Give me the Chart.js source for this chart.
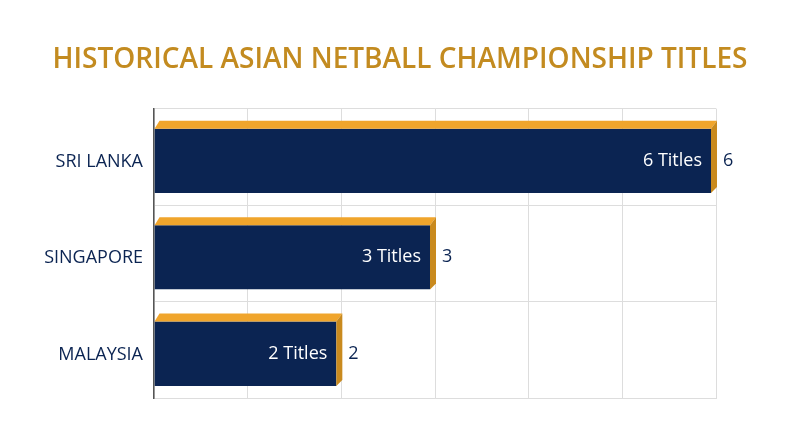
<!DOCTYPE html>
<html>
<head>
<meta charset="utf-8">
<script src="https://cdn.jsdelivr.net/npm/chart.js@4/dist/chart.umd.min.js"></script>
<style>
  body { margin: 0; background: #fff; }
  #wrap { width: 800px; height: 447px; }
</style>
</head>
<body>
<div id="wrap"><canvas id="titlesChart" width="800" height="447"></canvas></div>
<script>
// chart values
var countries = ['SRI LANKA', 'SINGAPORE', 'MALAYSIA'];
var titles = [6, 3, 2];
var barLabels = ['6 Titles', '3 Titles', '2 Titles'];

var navy = '#0B2452';
var goldTop = '#F0A52C';
var goldSide = '#C98A1E';

// the bar keeps a transparent top and right border; the 3d faces go in there
var depthTop = 8;
var depthSide = 5;

var boxes3d = {
    id: 'boxes3d',
    afterDatasetsDraw: function (chart) {
        var ctx = chart.ctx;
        var meta = chart.getDatasetMeta(0);
        meta.data.forEach(function (bar, i) {
            var top = bar.y - bar.height / 2;
            var bottom = bar.y + bar.height / 2;
            var faceTop = top + depthTop;
            var left = bar.base;
            var faceRight = bar.x - depthSide;
            var outerRight = bar.x + 1;

            ctx.save();
            ctx.fillStyle = goldTop;
            ctx.beginPath();
            ctx.moveTo(left, faceTop);
            ctx.lineTo(left + 5, top);
            ctx.lineTo(outerRight, top);
            ctx.lineTo(faceRight, faceTop);
            ctx.closePath();
            ctx.fill();

            ctx.fillStyle = goldSide;
            ctx.beginPath();
            ctx.moveTo(faceRight, faceTop);
            ctx.lineTo(outerRight, top);
            ctx.lineTo(outerRight, bottom - depthTop + 2);
            ctx.lineTo(faceRight, bottom);
            ctx.closePath();
            ctx.fill();

            var midY = (faceTop + bottom) / 2;
            ctx.font = '18px "Open Sans"';
            ctx.textBaseline = 'middle';
            ctx.fillStyle = '#ffffff';
            ctx.textAlign = 'right';
            ctx.fillText(barLabels[i], faceRight - 9, midY);

            ctx.fillStyle = navy;
            ctx.textAlign = 'left';
            ctx.fillText(String(titles[i]), outerRight + 6, midY);
            ctx.restore();
        });
    }
};

var ctx = document.getElementById('titlesChart').getContext('2d');
var myChart = new Chart(ctx, {
    type: 'bar',
    data: {
        labels: countries,
        datasets: [{
            data: titles,
            backgroundColor: navy,
            borderColor: 'rgba(0,0,0,0)',
            borderWidth: { top: depthTop, right: depthSide, bottom: 0, left: 0 },
            borderSkipped: false,
            barPercentage: 0.75,
            categoryPercentage: 1
        }]
    },
    options: {
        indexAxis: 'y',
        responsive: false,
        animation: false,
        layout: { padding: { left: 0, right: 0, top: 0, bottom: 49 } },
        plugins: {
            legend: { display: false },
            tooltip: { enabled: false },
            title: {
                display: true,
                text: 'HISTORICAL ASIAN NETBALL CHAMPIONSHIP TITLES',
                color: '#C38B20',
                font: { family: 'Open Sans', size: 28, weight: '600' },
                padding: { top: 43, bottom: 32 }
            }
        },
        scales: {
            x: {
                min: 0,
                max: 6,
                ticks: { stepSize: 1, display: false },
                grid: { color: '#dddddd', drawTicks: false },
                border: { color: '#dddddd' }
            },
            y: {
                afterFit: function (scale) { scale.width = 154; },
                ticks: {
                    color: navy,
                    padding: 11,
                    labelOffset: 5,
                    font: { family: 'Open Sans', size: 18 }
                },
                grid: { color: '#dddddd', drawTicks: false },
                border: { color: '#555555', width: 1.5 }
            },
            // empty right-hand axis, only keeps room for the value labels
            spacer: {
                type: 'linear',
                position: 'right',
                afterFit: function (scale) { scale.width = 84; },
                ticks: { display: false },
                grid: { display: false },
                border: { display: false }
            }
        }
    },
    plugins: [boxes3d]
});
</script>
</body>
</html>
